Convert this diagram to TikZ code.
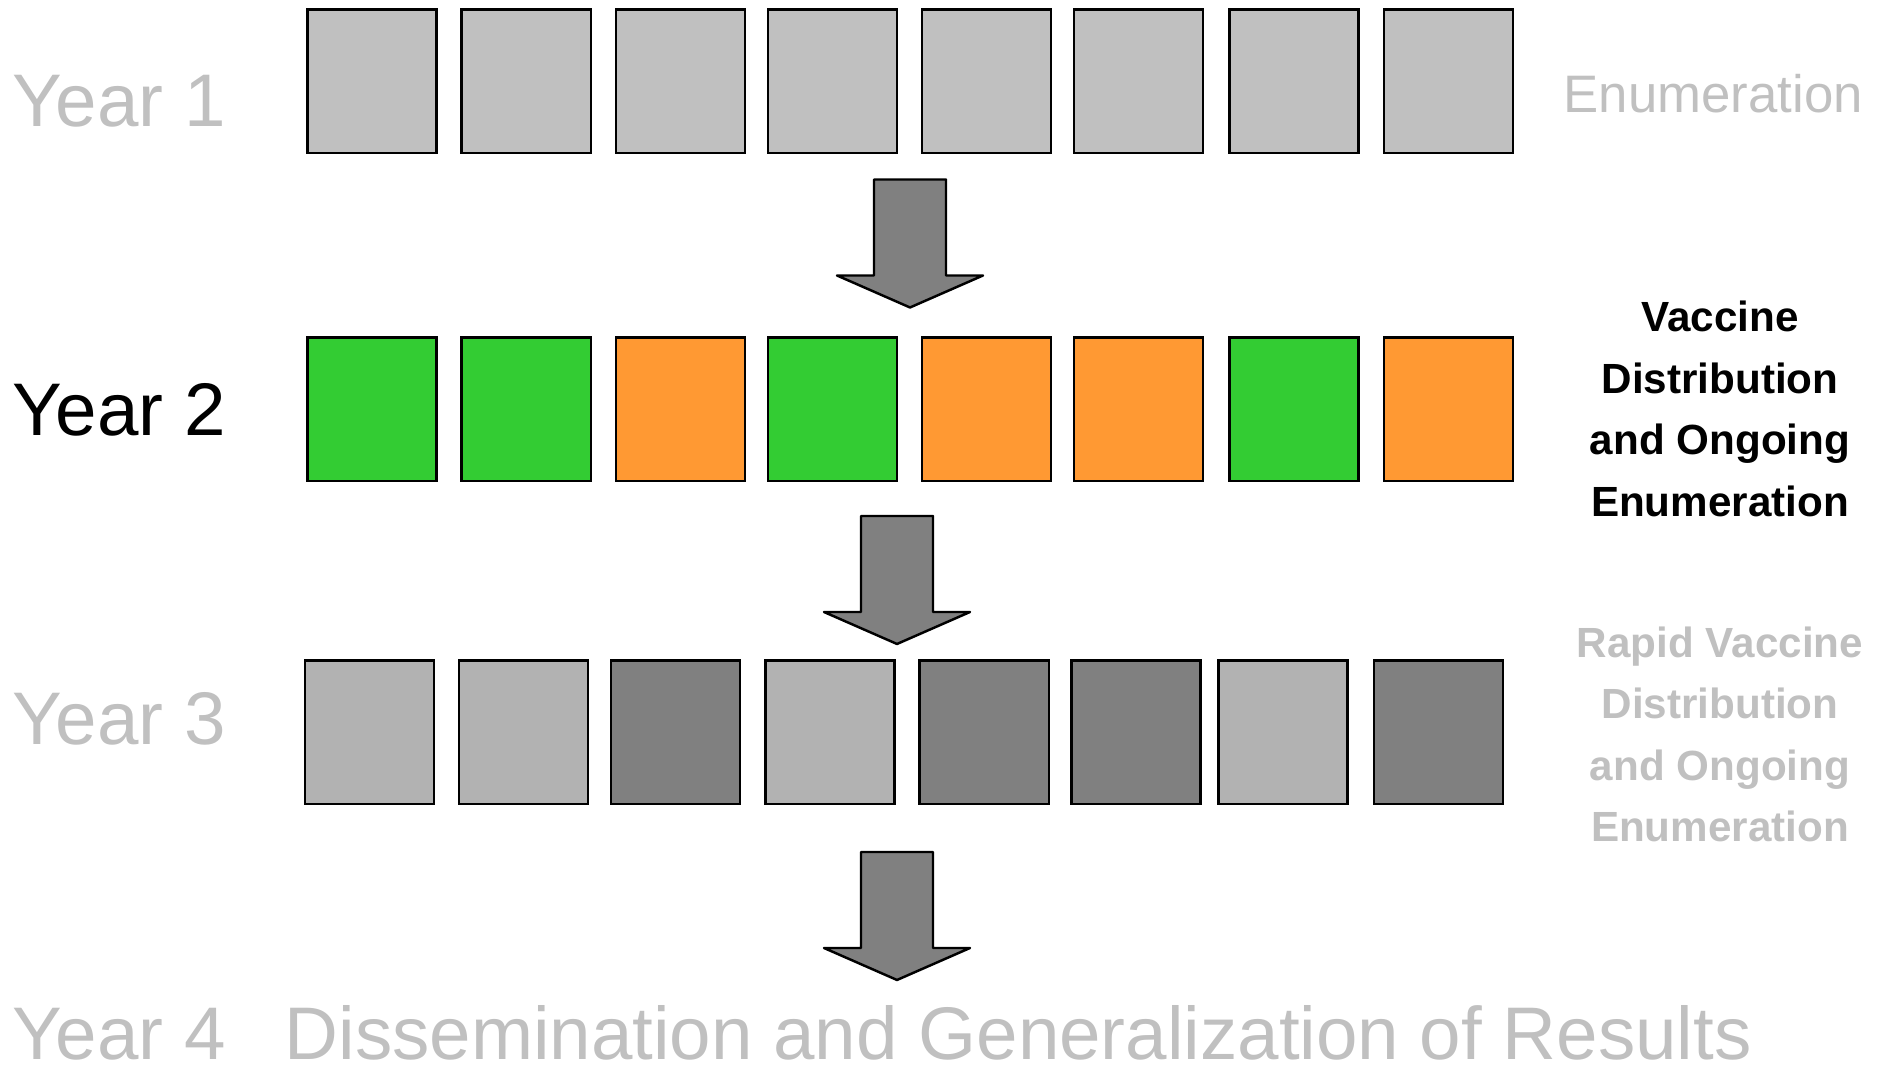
\documentclass[tikz,border=0pt]{standalone}
\usepackage{fontspec}
\setmainfont{Liberation Sans}
\usetikzlibrary{positioning}

\definecolor{paleGrey}{HTML}{C0C0C0}
\definecolor{midGrey}{HTML}{B2B2B2}
\definecolor{darkGrey}{HTML}{808080}
\definecolor{vacGreen}{HTML}{33CC33}
\definecolor{vacOrange}{HTML}{FF9933}

% block arrow between the years, drawn down from its top centre
\tikzset{
	yeararrow/.pic={
		\draw[fill=darkGrey, line width=0.7pt, line join=round]
		(-36,0) -- (36,0) -- (36,96) -- (73,96) -- (0,128) -- (-73,96) -- (-36,96) -- cycle;
	}
}

\begin{document}
\begin{tikzpicture}[x=0.01cm, y=-0.01cm,
	cell/.style={draw, line width=0.7pt, minimum width=1.29cm, minimum height=1.434cm, inner sep=0pt},
	year/.style={anchor=base west, inner sep=0pt, text depth=0pt, font=\fontsize{21.2}{25}\selectfont},
	stage/.style={inner sep=0pt, align=center, font=\bfseries\fontsize{12}{17.5}\selectfont}]
	
	\useasboundingbox (0,0) rectangle (1890,1071);
	
	% year 1
	\foreach \i/\x in {1/371.9,2/526.2,3/680.4,4/832.3,5/986.6,6/1138.5,7/1294,8/1448.3}
		\node[cell, fill=paleGrey] (e\i) at (\x, 81.3) {};
	
	% year 2
	\foreach \i/\x/\c in {1/371.9/vacGreen,2/526.2/vacGreen,3/680.4/vacOrange,4/832.3/vacGreen,
		5/986.6/vacOrange,6/1138.5/vacOrange,7/1294/vacGreen,8/1448.3/vacOrange}
		\node[cell, fill=\c] (v\i) at (\x, 409.2) {};
	
	% year 3
	\foreach \i/\x/\c in {1/369.5/midGrey,2/523.7/midGrey,3/675.6/darkGrey,4/829.9/midGrey,
		5/984.2/darkGrey,6/1136.1/darkGrey,7/1283.1/midGrey,8/1438.6/darkGrey}
		\node[cell, fill=\c] (r\i) at (\x, 732.3) {};
	
	\pic at (910,179.5) {yeararrow};
	\pic at (897,516) {yeararrow};
	\pic at (897,852) {yeararrow};
	
	\node[year, text=paleGrey] (y1) at (12,126.7) {Year 1};
	\node[year] (y2) at (12,436) {Year 2};
	\node[year, text=paleGrey] (y3) at (12,745) {Year 3};
	\node[year, text=paleGrey] (y4) at (12,1060) {Year 4};
	\node[year, text=paleGrey] (res) at (284,1060) {Dissemination and Generalization of Results};
	
	\node[anchor=base west, inner sep=0pt, text=paleGrey, font=\fontsize{15}{18}\selectfont] (enum) at (1563,112.7) {Enumeration};
	\node[stage] (dist) at (1720,409) {Vaccine\\Distribution\\and Ongoing\\Enumeration};
	\node[stage, text=paleGrey] (rapid) at (1720,734.5) {Rapid Vaccine\\Distribution\\and Ongoing\\Enumeration};
	
\end{tikzpicture}
\end{document}
